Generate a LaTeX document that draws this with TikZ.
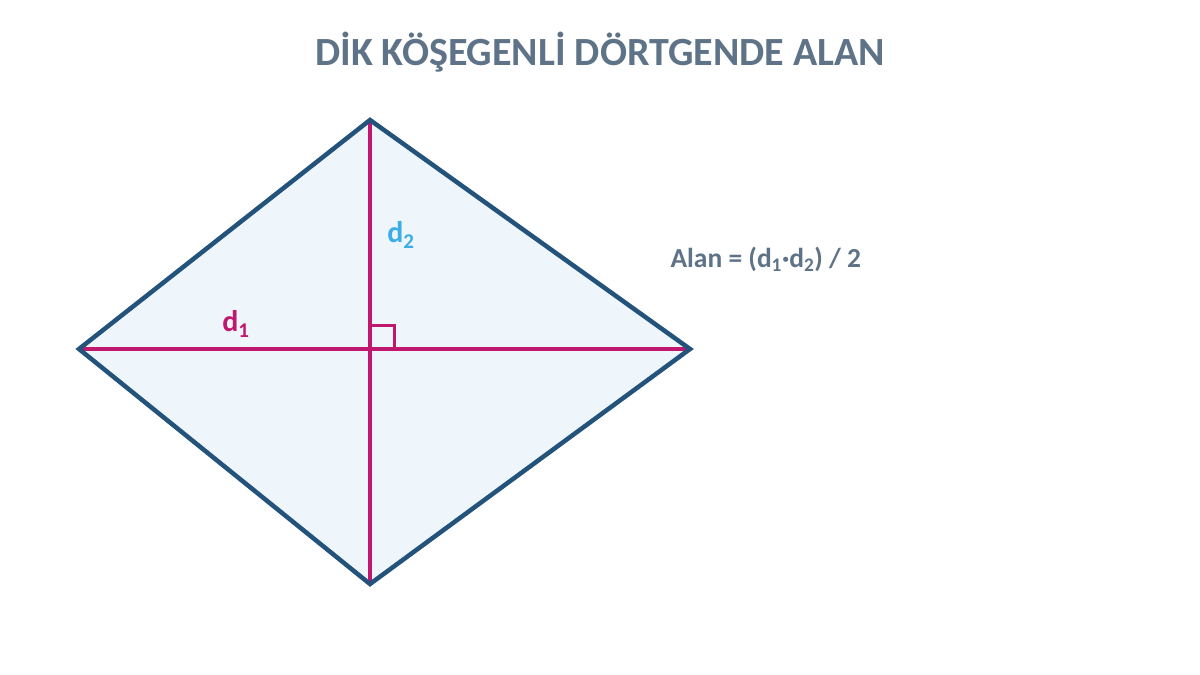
\documentclass[tikz,border=0pt]{standalone}
\usepackage{fontspec}
\usetikzlibrary{calc}
\setmainfont{Carlito}
\definecolor{titlec}{HTML}{5E7387}
\definecolor{edgec}{HTML}{23527A}
\definecolor{diagc}{HTML}{C0186E}
\definecolor{d2c}{HTML}{3AAEE8}
\definecolor{fillc}{HTML}{EEF6FC}
\begin{document}
\begin{tikzpicture}[x=1pt,y=-1pt,
  edge/.style={draw=edgec,line width=4.5pt,line join=miter},
  diag/.style={draw=diagc,line width=4.5pt},
  lbl/.style={font=\bfseries\fontsize{30}{34}\selectfont,inner sep=1pt}]
\useasboundingbox (0,0) rectangle (1200,675);
\coordinate (L) at (79,349);
\coordinate (T) at (370,120);
\coordinate (R) at (690,349);
\coordinate (B) at (370,584);
\coordinate (O) at (370,349);
\fill[fillc] (L) -- (T) -- (R) -- (B) -- cycle;
\draw[diag] (L) -- (R);
\draw[diag] (T) -- (B);
\draw[draw=diagc,line width=3pt] ($(O)+(0,-24)$) -- ++(24,0) -- ++(0,24);
\draw[edge] (L) -- (T) -- (R) -- (B) -- cycle;
\node[font=\bfseries\fontsize{40}{44}\selectfont,text=titlec] (title) at (600,52) {DİK KÖŞEGENLİ DÖRTGENDE ALAN};
\node[lbl,text=diagc] (d1) at (236,324) {d\textsubscript{1}};
\node[lbl,text=d2c] (d2) at (401,235) {d\textsubscript{2}};
\node[font=\bfseries\fontsize{27.5}{30}\selectfont,text=titlec,anchor=west] (area) at (667,259) {Alan = (d\textsubscript{1}·d\textsubscript{2}) / 2};
\end{tikzpicture}
\end{document}
